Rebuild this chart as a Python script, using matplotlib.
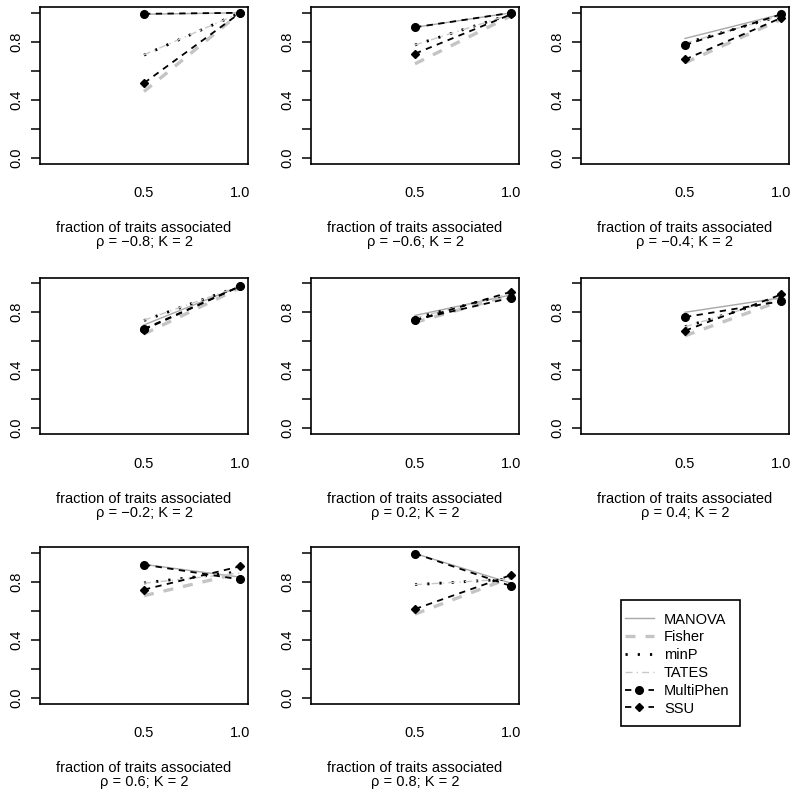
import matplotlib
matplotlib.use("Agg")
import matplotlib.pyplot as plt
from matplotlib.lines import Line2D
from matplotlib.patches import Rectangle

plt.rcParams['font.family'] = ['Liberation Sans', 'DejaVu Sans']
FS = 10.5

fractions = [0.5, 1.0]
rhos = ["\u22120.8", "\u22120.6", "\u22120.4", "\u22120.2", "0.2", "0.4", "0.6", "0.8"]
methods = ["MANOVA", "Fisher", "minP", "TATES", "MultiPhen", "SSU"]

manova    = [[0.990, 1.000], [0.900, 1.000], [0.823, 0.990], [0.713, 0.980],
             [0.778, 0.920], [0.800, 0.900], [0.920, 0.832], [0.995, 0.790]]
fisher    = [[0.457, 1.000], [0.648, 0.980], [0.655, 0.955], [0.650, 0.970],
             [0.730, 0.920], [0.638, 0.880], [0.704, 0.860], [0.577, 0.830]]
minp      = [[0.708, 1.000], [0.778, 0.990], [0.790, 0.980], [0.743, 0.980],
             [0.760, 0.930], [0.700, 0.900], [0.792, 0.870], [0.780, 0.820]]
tates     = [[0.710, 1.000], [0.778, 0.990], [0.790, 0.980], [0.745, 0.980],
             [0.760, 0.930], [0.700, 0.900], [0.790, 0.860], [0.780, 0.820]]
multiphen = [[0.993, 1.000], [0.900, 1.000], [0.778, 0.990], [0.685, 0.980],
             [0.748, 0.900], [0.767, 0.876], [0.918, 0.816], [0.995, 0.770]]
ssu       = [[0.515, 1.000], [0.718, 0.990], [0.678, 0.965], [0.680, 0.980],
             [0.745, 0.942], [0.673, 0.923], [0.746, 0.907], [0.612, 0.847]]

series = [manova, fisher, minp, tates, multiphen, ssu]
styles = [
    dict(color='#a8a8a8', lw=1.0, linestyle='-'),
    dict(color='#c4c4c4', lw=2.4, linestyle=(0, (3, 3))),
    dict(color='black', lw=2.0, linestyle=(0, (0.8, 3.6))),
    dict(color='#c8c8c8', lw=1.0, linestyle=(0, (5, 3, 1, 3))),
    dict(color='black', lw=1.3, linestyle=(0, (3.5, 3)), marker='o', markersize=5.5),
    dict(color='black', lw=1.3, linestyle=(0, (3.5, 3)), marker='D', markersize=4.2),
]

W, H = 800, 799
fig = plt.figure(figsize=(W / 100, H / 100), dpi=100)

col_left = [40, 311, 581]
row_top = [7, 277.5, 547]
pw, ph = 208, 156.5

for i, rho in enumerate(rhos):
    r, c = divmod(i, 3)
    x0, y0 = col_left[c], row_top[r]
    ax = fig.add_axes([x0 / W, 1 - (y0 + ph) / H, pw / W, ph / H])
    for s, st in zip(series, styles):
        ax.plot(fractions, s[i], **st)
    ax.set_xlim(-0.04, 1.04)
    ax.set_ylim(-0.04, 1.04)
    ax.set_xticks(fractions)
    ax.set_xticklabels(["0.5", "1.0"], fontsize=FS)
    ax.tick_params(axis='x', length=0, pad=16.5)
    ax.set_yticks([0, 0.2, 0.4, 0.6, 0.8, 1.0])
    ax.set_yticklabels(["0.0", "", "0.4", "", "0.8", ""], fontsize=FS,
                       rotation=90, va='center')
    ax.tick_params(axis='y', length=6.5, width=1.1, pad=5.5)
    for sp in ax.spines.values():
        sp.set_linewidth(1.2)
    cx = (x0 + pw / 2) / W
    yb = y0 + ph
    fig.text(cx, 1 - (yb + 64.5) / H, "fraction of traits associated",
             ha='center', va='center', fontsize=FS)
    fig.text(cx, 1 - (yb + 78.5) / H, "\u03c1 = %s; K = 2" % rho,
             ha='center', va='center', fontsize=FS)

handles = [Line2D([], [], **st) for st in styles]
leg = fig.legend(handles, methods, loc='upper left',
                 bbox_to_anchor=(618 / W, 1 - 606 / H), borderaxespad=0,
                 frameon=False,
                 handlelength=2.0, handletextpad=0.7, labelspacing=0.26,
                 borderpad=0.45, fontsize=FS, numpoints=1)
fig.add_artist(Rectangle((621 / W, 1 - 726 / H), (740 - 621) / W, 126 / H,
                         transform=fig.transFigure, fill=False,
                         edgecolor='black', linewidth=1.2))

fig.savefig("out.png", dpi=100)
